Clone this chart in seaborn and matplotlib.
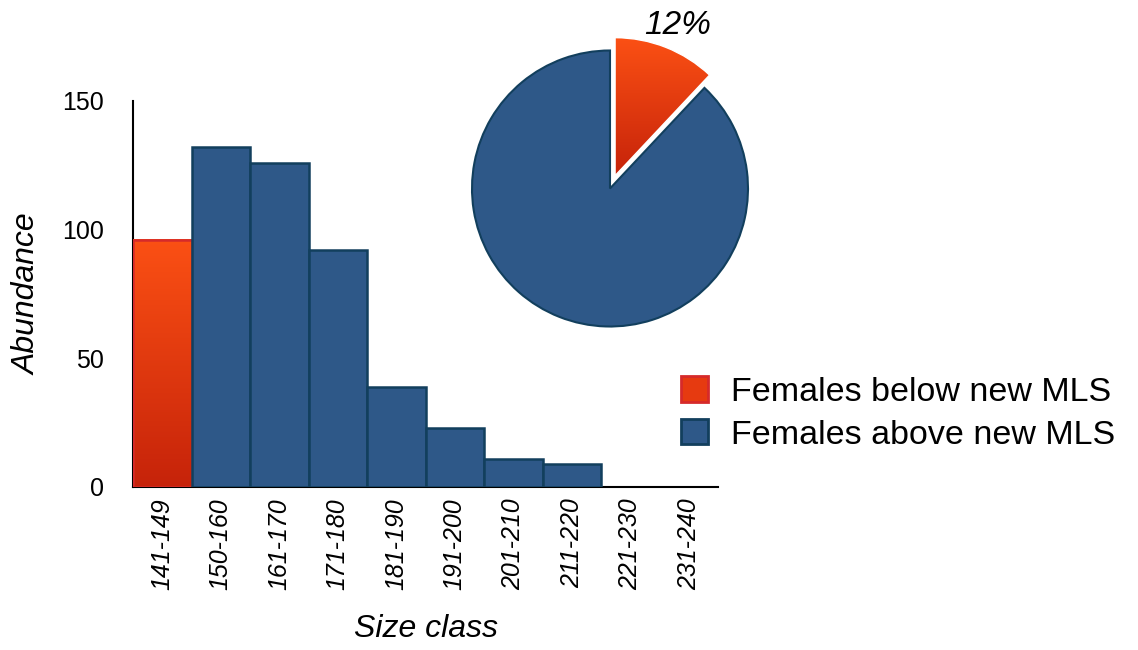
import numpy as np
import pandas as pd
import matplotlib
matplotlib.use("Agg")
import matplotlib.pyplot as plt
import seaborn as sns
from matplotlib.patches import Patch
from matplotlib.colors import LinearSegmentedColormap

# Size-frequency data for females
size_classes = ["141-149", "150-160", "161-170", "171-180", "181-190",
                "191-200", "201-210", "211-220", "221-230", "231-240"]
abundance = [96, 132, 126, 92, 39, 23, 11, 9, 0, 0]
below_mls_classes = ["141-149"]

# Share of females below / above the new minimum legal size
group_labels = ["Females below new MLS", "Females above new MLS"]
pie_shares = [12, 88]

BLUE = "#2e5888"
BLUE_EDGE = "#123f5d"
RED_TOP = "#fb5014"
RED_BOTTOM = "#c6230a"
RED_MID = "#e63a10"
RED_EDGE = "#d62a2a"
red_cmap = LinearSegmentedColormap.from_list("red_grad", [RED_BOTTOM, RED_TOP])

sns.set_theme(style="white")
plt.rcParams["font.family"] = ["Liberation Sans", "DejaVu Sans"]
plt.rcParams.update({"text.color": "black", "axes.labelcolor": "black",
                     "xtick.color": "black", "ytick.color": "black"})

fig = plt.figure(figsize=(11.38, 6.5), dpi=100)
ax = fig.add_axes([133 / 1138, 163 / 650, 585 / 1138, 386 / 650])

df = pd.DataFrame({
    "size_class": size_classes,
    "abundance": abundance,
    "group": [group_labels[0] if s in below_mls_classes else group_labels[1]
              for s in size_classes],
})

sns.barplot(data=df, x="size_class", y="abundance", hue="group",
            hue_order=group_labels,
            palette={group_labels[0]: RED_MID, group_labels[1]: BLUE},
            saturation=1, dodge=False, width=1.0, errorbar=None,
            legend=False, ax=ax, linewidth=1.8, edgecolor=BLUE_EDGE, zorder=3)

# Gradient fill for the class below the MLS; empty classes get no outline
below_idx = [size_classes.index(s) for s in below_mls_classes]
for p in ax.patches:
    if p.get_height() <= 0:
        p.set_visible(False)
        continue
    cx = p.get_x() + p.get_width() / 2
    if any(abs(cx - i) < 0.3 for i in below_idx):
        x0, w, h = p.get_x(), p.get_width(), p.get_height()
        grad = np.linspace(0, 1, 256).reshape(-1, 1)
        ax.imshow(grad, extent=[x0, x0 + w, 0, h], origin="lower",
                  cmap=red_cmap, aspect="auto", zorder=2.9,
                  interpolation="bicubic")
        p.set_facecolor("none")
        p.set_edgecolor(RED_EDGE)

ax.set_xlim(-0.5, len(size_classes) - 0.5)
ax.set_ylim(0, 150)
ax.set_yticks([0, 50, 100, 150])
ax.tick_params(axis="y", length=0, pad=21, labelsize=18)
ax.tick_params(axis="x", length=0, pad=8, labelsize=18)
for lbl in ax.get_xticklabels():
    lbl.set_rotation(90)
    lbl.set_fontstyle("italic")

for side in ["top", "right"]:
    ax.spines[side].set_visible(False)
for side in ["left", "bottom"]:
    ax.spines[side].set_color("black")
    ax.spines[side].set_linewidth(1.5)

ax.set_xlabel("Size class", fontsize=23, style="italic")
ax.set_ylabel("Abundance", fontsize=23, style="italic")
ax.xaxis.set_label_coords(0.5, -0.33)
ax.yaxis.set_label_coords(-0.155, 0.5)

# Inset pie with the share below the new MLS
half = 138 * 1.3
pax = fig.add_axes([(610 - half) / 1138, (650 - 188.5 - half) / 650,
                    2 * half / 1138, 2 * half / 650])
wedges, _ = pax.pie(pie_shares, startangle=90, counterclock=False,
                    explode=[0.1, 0], colors=[RED_MID, BLUE],
                    wedgeprops=dict(linewidth=1.5, edgecolor=BLUE_EDGE))
red_wedge = wedges[0]
red_wedge.set_edgecolor("white")
red_wedge.set_linewidth(1.0)
bb = red_wedge.get_path().get_extents(red_wedge.get_patch_transform())
grad = np.linspace(0, 1, 256).reshape(-1, 1)
img = pax.imshow(grad, extent=[bb.x0, bb.x1, bb.y0, bb.y1], origin="lower",
                 cmap=red_cmap, aspect="auto", zorder=red_wedge.get_zorder() - 0.1,
                 interpolation="bicubic")
img.set_clip_path(red_wedge)
red_wedge.set_facecolor("none")
pax.set_xlim(-1.3, 1.3)
pax.set_ylim(-1.3, 1.3)
pax.set_aspect("equal")
pax.axis("off")
pax.text(0.49, 1.18, f"{pie_shares[0]}%", ha="center", va="center",
         fontsize=24, style="italic")

handles = [Patch(facecolor=RED_MID, edgecolor=RED_EDGE, linewidth=2),
           Patch(facecolor=BLUE, edgecolor=BLUE_EDGE, linewidth=2)]
fig.legend(handles=handles, labels=group_labels, loc="upper left",
           bbox_to_anchor=(681 / 1138, 1 - 376 / 650), frameon=False,
           fontsize=24.5, handlelength=0.78, handleheight=0.78,
           handletextpad=0.68, labelspacing=0.33, borderpad=0,
           borderaxespad=0)

fig.savefig("out.png", dpi=100)
